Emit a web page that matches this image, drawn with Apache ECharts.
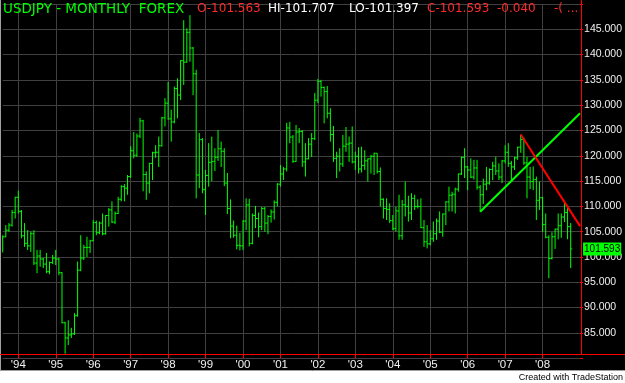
<!DOCTYPE html>
<html><head><meta charset="utf-8">
<script src="https://cdn.jsdelivr.net/npm/echarts@6/dist/echarts.min.js"></script>
<style>html,body{margin:0;padding:0;background:#000;overflow:hidden}#c{width:625px;height:383px}</style>
</head><body><div id="c"></div>
<script>
// Monthly USDJPY bars, Aug 1993 .. Oct 2008 (one line per year)
const opens = [
 103.6,104.0,105.3,106.3,108.8,
 111.8,109.0,104.2,102.7,102.2,104.6,98.8,100.2,99.6,98.6,97.1,98.9,
 99.8,99.6,96.9,87.0,84.0,84.6,84.8,88.4,97.4,99.8,101.9,101.9,
 103.2,106.8,104.8,106.7,104.6,108.2,109.3,106.9,108.6,111.4,113.9,113.6,
 115.9,121.0,120.1,123.9,126.9,116.3,114.6,118.5,120.6,120.7,122.0,127.5,
 130.4,127.3,126.7,133.3,132.0,138.8,138.5,144.4,141.3,136.2,116.2,123.2,
 113.3,116.1,118.7,118.9,119.7,121.4,120.9,114.6,109.6,106.1,104.3,102.3,
 102.2,107.1,110.3,102.7,108.2,107.6,106.0,109.6,106.7,108.0,108.9,110.8,
 114.4,116.4,117.4,125.5,123.7,118.9,124.7,124.8,118.8,119.4,122.3,123.4,
 131.0,134.7,133.5,132.7,128.4,124.2,119.5,119.9,118.4,121.9,122.3,122.5,
 118.8,119.9,117.4,118.1,119.0,119.4,119.9,120.5,116.9,111.4,109.6,109.4,
 107.2,105.6,109.1,104.2,110.3,110.0,108.7,111.6,110.0,110.0,105.8,103.0,
 102.6,103.6,104.6,107.1,104.9,108.5,110.9,112.2,112.4,113.4,116.4,119.7,
 117.8,117.2,115.8,117.6,113.8,112.3,114.4,114.6,117.3,118.0,117.0,115.8,
 119.0,120.7,118.5,117.8,119.6,121.7,123.2,118.6,115.8,114.9,115.3,111.2,
 111.7,106.4,103.9,99.7,104.0,105.5,106.2,107.9,108.8,106.0
];
const highs = [
 104.3,106.3,106.7,109.3,111.9,
 113.1,109.3,106.7,105.3,105.0,105.3,101.4,101.4,99.8,100.8,99.1,100.4,
 101.4,99.8,97.0,87.2,87.5,86.0,88.9,99.1,104.3,102.4,104.0,103.4,
 107.3,107.2,107.0,108.6,108.3,109.7,111.0,109.0,111.9,114.2,114.4,116.2,
 121.9,124.7,124.4,127.5,127.1,116.9,118.6,120.8,122.1,123.8,127.7,131.4,
 134.6,129.1,133.7,135.3,138.9,146.8,145.2,147.8,141.5,137.0,124.5,123.5,
 117.2,122.5,123.8,121.5,125.1,122.8,121.5,116.6,111.4,107.2,106.2,104.8,
 107.3,111.6,111.5,108.6,110.1,108.8,109.9,109.9,108.3,109.4,111.2,114.6,
 118.2,117.8,126.5,126.7,124.1,126.1,125.5,125.1,122.5,123.5,124.5,132.4,
 135.2,135.0,133.7,133.8,129.4,125.9,120.8,121.5,124.1,125.7,123.8,125.8,
 120.8,121.7,121.8,121.1,119.5,120.2,120.6,120.5,117.7,111.6,111.6,110.6,
 108.3,109.9,112.3,111.3,114.9,112.1,112.6,112.3,111.4,111.6,107.3,106.3,
 105.3,107.0,107.6,109.0,108.6,111.0,113.9,112.9,113.7,116.5,119.8,121.5,
 118.0,119.5,119.2,119.2,114.2,115.5,117.8,117.5,118.8,119.8,118.5,119.2,
 122.1,122.5,119.0,119.8,121.8,124.2,123.6,119.8,117.8,117.9,115.9,114.9,
 111.9,108.6,104.3,104.9,105.6,108.6,108.6,110.7,110.0,106.7
];
const lows = [
 100.9,103.9,105.0,106.0,107.6,
 108.6,103.7,102.0,101.4,101.0,98.4,96.8,98.1,97.8,96.8,96.6,98.6,
 98.4,96.4,86.9,80.9,82.6,84.0,84.6,88.2,97.2,99.4,100.0,100.8,
 103.1,104.3,104.5,104.3,104.4,106.0,106.7,106.5,108.5,111.0,111.0,112.3,
 115.6,119.5,119.8,123.5,113.0,111.3,112.6,115.2,119.6,117.8,121.8,125.8,
 127.1,122.8,126.4,127.4,131.0,134.0,138.4,138.6,132.0,111.6,113.6,112.6,
 108.3,113.9,115.0,117.0,119.0,117.8,114.0,108.5,103.7,103.8,101.5,101.3,
 101.4,105.3,102.1,102.5,105.7,103.9,105.3,105.0,104.5,106.8,107.4,110.0,
 113.9,115.2,116.9,122.5,118.6,118.8,122.5,117.8,115.9,119.3,119.8,123.1,
 130.4,131.7,126.4,127.4,122.8,118.8,115.6,116.9,117.8,120.8,118.8,118.5,
 117.2,116.5,116.7,117.2,114.9,116.5,116.2,116.5,110.0,107.6,107.3,106.7,
 105.3,105.0,103.4,103.4,108.0,107.0,107.3,109.3,109.6,105.7,102.0,101.7,
 102.3,103.0,103.4,104.7,104.0,106.3,109.0,109.0,108.6,112.9,116.2,115.6,
 113.2,115.6,115.3,113.3,109.0,110.5,113.2,114.3,115.2,116.2,115.2,114.6,
 118.5,117.8,115.2,117.2,119.2,120.6,118.2,111.6,113.4,113.2,107.3,109.3,
 104.97,103.7,95.8,99.5,101.6,103.5,103.8,106.9,103.5,97.8
];
const closes = [
 104.0,105.3,106.3,108.8,111.8,
 109.0,104.2,102.7,102.2,104.6,98.8,100.2,99.6,98.6,97.1,98.9,99.8,
 99.6,96.9,87.0,84.0,84.6,84.8,88.4,97.4,99.8,101.9,101.9,103.2,
 106.8,104.8,106.7,104.6,108.2,109.3,106.9,108.6,111.4,113.9,113.6,115.9,
 121.0,120.1,123.9,126.9,116.3,114.6,118.5,120.6,120.7,122.0,127.5,130.4,
 127.3,126.7,133.3,132.0,138.8,138.5,144.4,141.3,136.2,116.2,123.2,113.3,
 116.1,118.7,118.9,119.7,121.4,120.9,114.6,109.6,106.1,104.3,102.3,102.2,
 107.1,110.3,102.7,108.2,107.6,106.0,109.6,106.7,108.0,108.9,110.8,114.4,
 116.4,117.4,125.5,123.7,118.9,124.7,124.8,118.8,119.4,122.3,123.4,131.0,
 134.7,133.5,132.7,128.4,124.2,119.5,119.9,118.4,121.9,122.3,122.5,118.8,
 119.9,117.4,118.1,119.0,119.4,119.9,120.5,116.9,111.4,109.6,109.4,107.2,
 105.6,109.1,104.2,110.3,110.0,108.7,111.6,110.0,110.0,105.8,103.0,102.6,
 103.6,104.6,107.1,104.9,108.5,110.9,112.2,112.4,113.4,116.4,119.7,117.8,
 117.2,115.8,117.6,113.8,112.3,114.4,114.6,117.3,118.0,117.0,115.8,119.0,
 120.7,118.5,117.8,119.6,121.7,123.2,118.6,115.8,114.9,115.3,111.2,111.7,
 106.4,103.9,99.7,104.0,105.5,106.2,107.9,108.8,106.0,101.593
];
// Trendlines (month, price)
const upTrend = [['2006-05', 108.95], ['2009-01', 128.4]];
const downTrend = [['2007-06', 124.2], ['2009-01', 106.1]];
const lastPrice = 101.593;
// Header texts
const headerParts = [
  {text: 'USDJPY - MONTHLY  FOREX', color: '#00ff00', x: 3, size: 13.5},
  {text: 'O-101.563', color: '#ff2a2a', x: 197, size: 12},
  {text: 'HI-101.707', color: '#ffffff', x: 268, size: 12},
  {text: 'LO-101.397', color: '#ffffff', x: 349, size: 12},
  {text: 'C-101.593', color: '#ff2a2a', x: 427, size: 12},
  {text: '-0.040', color: '#ff2a2a', x: 497, size: 12},
  {text: '-( ...', color: '#ff2a2a', x: 554, size: 12}
];
const footerText = 'Created with TradeStation';

// categories: months Aug 1993 .. Jan 2009
const categories = [];
for (let y = 1993, m = 8; y < 2009 || (y === 2009 && m <= 1); ) {
  categories.push(y + '-' + String(m).padStart(2, '0'));
  m++; if (m > 12) { m = 1; y++; }
}
const barData = opens.map((o, i) => [i, o, highs[i], lows[i], closes[i]]);

const axisFont = "'Liberation Sans', Arial, sans-serif";
const gridColor = '#404040';
const isYearStart = (i, v) => v.endsWith('-01') && v !== '2009-01';

function renderBar(params, api) {
  const x = api.value(0);
  const pH = api.coord([x, api.value(2)]);
  const pL = api.coord([x, api.value(3)]);
  const pO = api.coord([x, api.value(1)]);
  const pC = api.coord([x, api.value(4)]);
  const st = {stroke: '#00ff00', lineWidth: 1, fill: null};
  const t = 1.5;
  return {type: 'group', children: [
    {type: 'line', shape: {x1: pH[0], y1: pH[1], x2: pL[0], y2: pL[1]}, style: st},
    {type: 'line', shape: {x1: pO[0] - t, y1: pO[1], x2: pO[0], y2: pO[1]}, style: st},
    {type: 'line', shape: {x1: pC[0], y1: pC[1], x2: pC[0] + t, y2: pC[1]}, style: st}
  ]};
}

const chart = echarts.init(document.getElementById('c'));
const graphics = [
  {type: 'rect', shape: {x: 0, y: 371, width: 625, height: 12}, style: {fill: '#ffffff'}, z: 100},
  {type: 'line', shape: {x1: 0, y1: 370.5, x2: 625, y2: 370.5}, style: {stroke: '#a0a0a0', lineWidth: 1}, z: 100},
  {type: 'rect', shape: {x: 0, y: 0, width: 1, height: 370}, style: {fill: '#a0a0a0'}, z: 100},
  {type: 'line', shape: {x1: 0, y1: 354.5, x2: 625, y2: 354.5}, style: {stroke: '#ff0000', lineWidth: 1}, z: 100},
  {type: 'line', shape: {x1: 581.5, y1: 0, x2: 581.5, y2: 354.5}, style: {stroke: '#ff0000', lineWidth: 1}, z: 100},
  {type: 'text', x: 623, y: 377.5, style: {text: footerText, fill: '#000', font: "9px " + axisFont, textAlign: 'right', textVerticalAlign: 'middle'}, z: 101}
];
headerParts.forEach(p => graphics.push({type: 'text', x: p.x, y: 9, z: 101,
  style: {text: p.text, fill: p.color, font: p.size + "px 'DejaVu Sans', sans-serif", textAlign: 'left', textVerticalAlign: 'middle'}}));

chart.setOption({
  animation: false,
  backgroundColor: '#000000',
  grid: {left: 2.7, right: 43.5, top: 4, bottom: 24.8, containLabel: false},
  xAxis: {
    type: 'category', data: categories, boundaryGap: false, offset: -4,
    axisLine: {show: false},
    axisTick: {show: true, alignWithLabel: true, interval: isYearStart, length: 4, lineStyle: {color: '#ff0000'}},
    axisLabel: {interval: isYearStart, formatter: v => "'" + v.slice(2, 4), color: '#f0f0f0', margin: 5, fontSize: 11.5, fontFamily: axisFont},
    splitLine: {show: true, interval: isYearStart, lineStyle: {color: gridColor, width: 1}}
  },
  yAxis: {
    type: 'value', position: 'right', min: 80, max: 150, interval: 5,
    axisLine: {show: false},
    axisTick: {show: true, length: 3, lineStyle: {color: '#ff0000'}},
    axisLabel: {color: '#f0f0f0', margin: 4, fontSize: 10.5, fontFamily: axisFont,
      formatter: v => (v <= 80 || v >= 150) ? '' : v.toFixed(3)},
    splitLine: {show: true, lineStyle: {color: gridColor, width: 1}}
  },
  series: [
    {type: 'custom', renderItem: renderBar, data: barData, encode: {x: 0, y: [1, 2, 3, 4]}, clip: true, z: 3},
    {type: 'line', data: upTrend, symbol: 'none', lineStyle: {color: '#00ff00', width: 2}, z: 4,
      markLine: {silent: true, symbol: 'none', lineStyle: {color: 'rgba(0,0,0,0)', width: 1, type: 'solid'},
        data: [{yAxis: lastPrice}],
        label: {show: true, position: 'end', distance: 3, formatter: lastPrice.toFixed(3), color: '#000',
          backgroundColor: '#00ff00', padding: [1, 1, 0, 1], fontSize: 10, fontFamily: axisFont, lineHeight: 12}}},
    {type: 'line', data: downTrend, symbol: 'none', lineStyle: {color: '#ff0000', width: 2}, z: 4}
  ],
  graphic: graphics
});
</script></body></html>
